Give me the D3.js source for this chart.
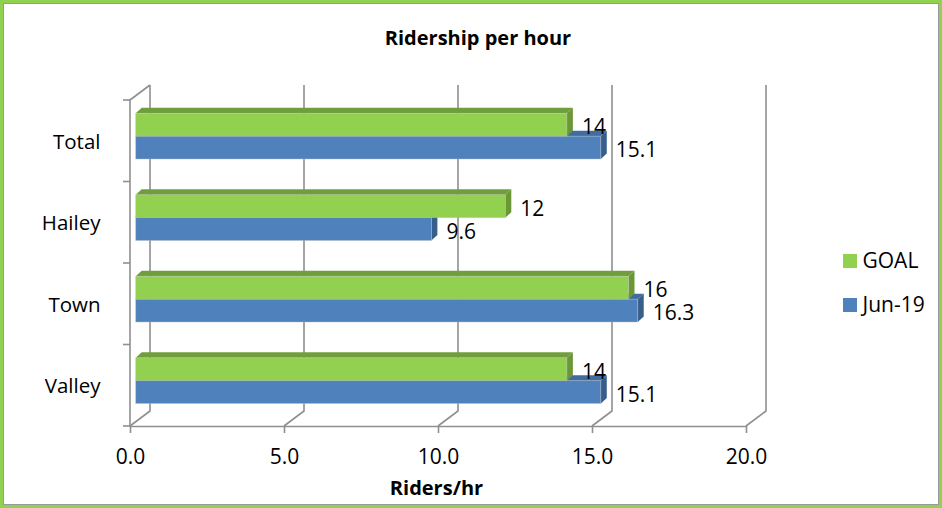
<!DOCTYPE html>
<html>
<head>
<meta charset="utf-8">
<script src="https://cdn.jsdelivr.net/npm/d3@7"></script>
<style>
  html, body { margin: 0; padding: 0; background: #fff; }
  svg { display: block; font-family: "Open Sans", Lato, "Liberation Sans", sans-serif; }
</style>
</head>
<body>
<svg id="chart" width="942" height="508"></svg>
<script>
// Ridership per hour, by route
const categories = ["Total", "Hailey", "Town", "Valley"];
const seriesNames = ["GOAL", "Jun-19"];
const goalValues = [14, 12, 16, 14];
const jun19Values = [15.1, 9.6, 16.3, 15.1];
const xTickValues = [0, 5, 10, 15, 20];

const seriesColors = {
  "GOAL":   { front: "#92d050", top: "#719e3d", side: "#6b9737" },
  "Jun-19": { front: "#4f81bd", top: "#3f6ca1", side: "#385e8c" }
};

const W = 942, H = 508;
const FONT = '"Open Sans", Lato, sans-serif';
const svg = d3.select("#chart");

// outer frame
svg.append("rect").attr("x", 1.5).attr("y", 1.5).attr("width", W - 3).attr("height", H - 3)
  .attr("fill", "#fff").attr("stroke", "#92d050").attr("stroke-width", 3);
svg.append("rect").attr("x", 3.5).attr("y", 3.5).attr("width", W - 7).attr("height", H - 7)
  .attr("fill", "none").attr("stroke", "#9a9a9a").attr("stroke-width", 1);

// scales (front plane)
const x = d3.scaleLinear().domain([0, 20]).range([130, 746]);
const y = d3.scaleBand().domain(categories).range([100, 426]);
const inner = d3.scaleBand().domain(seriesNames).range([13.3, 59]);

// 3D offsets
const wallDX = 20, wallDY = -15;    // depth of the back wall
const barPX = 5.7;                  // bars sit slightly behind the front plane
const barDX = 6, barDY = -5.5;      // depth of each bar box

const gridColor = "#8f8f8f";

// back wall gridlines + floor diagonals
const grid = svg.append("g").attr("stroke", gridColor).attr("stroke-width", 1.6).attr("fill", "none");
xTickValues.forEach(v => {
  const fx = x(v), fy = y.range()[1];
  grid.append("path").attr("d", d3.line()([
    [fx, fy], [fx + wallDX, fy + wallDY], [fx + wallDX, y.range()[0] + wallDY]
  ]));
});

// left wall: vertical axis line, top diagonal, category boundary ticks
const yTop = y.range()[0], yBot = y.range()[1];
grid.append("path").attr("d", d3.line()([
  [x(0) + wallDX, yTop + wallDY], [x(0), yTop], [x(0), yBot]
]));
const boundaries = categories.map(c => y(c)).concat([yBot]);
boundaries.forEach(b => {
  grid.append("line").attr("x1", x(0) - 7).attr("x2", x(0)).attr("y1", b).attr("y2", b);
});

// bottom axis
const xAxis = d3.axisBottom(x).tickValues(xTickValues).tickFormat(d3.format(".1f"))
  .tickSize(7).tickSizeOuter(0).tickPadding(16);
const gx = svg.append("g").attr("transform", `translate(0,${yBot})`).call(xAxis);
gx.select(".domain").attr("stroke", gridColor).attr("stroke-width", 1.6);
gx.selectAll(".tick line").attr("stroke", gridColor).attr("stroke-width", 1.6);
gx.selectAll(".tick text").attr("font-size", 21).attr("fill", "#000").attr("font-family", FONT);

// category labels
const yAxis = d3.axisLeft(y).tickSize(0).tickPadding(29.5);
const gy = svg.append("g").attr("transform", `translate(${x(0)},0)`).call(yAxis);
gy.select(".domain").remove();
gy.selectAll(".tick text").attr("font-size", 20.5).attr("fill", "#000").attr("dy", "0.38em")
  .attr("font-family", FONT);

// bars
const data = categories.map((c, i) => ({
  cat: c,
  values: [
    { s: "Jun-19", v: jun19Values[i] },
    { s: "GOAL", v: goalValues[i] }
  ]
}));

const bx = v => x(v) + barPX;
const barLayer = svg.append("g");
const labelLayer = svg.append("g").attr("font-size", 21).attr("fill", "#000").attr("font-family", FONT);

data.forEach(d => {
  d.values.forEach(b => {
    const col = seriesColors[b.s];
    const y0 = y(d.cat) + inner(b.s);
    const y1 = y0 + inner.bandwidth();
    const x0 = bx(0), x1 = bx(b.v);
    const g = barLayer.append("g");
    // top face
    g.append("path").attr("fill", col.top).attr("d", d3.line()([
      [x0, y0], [x0 + barDX, y0 + barDY], [x1 + barDX, y0 + barDY], [x1, y0]
    ]) + "Z");
    // side face
    g.append("path").attr("fill", col.side).attr("d", d3.line()([
      [x1, y0], [x1 + barDX, y0 + barDY], [x1 + barDX, y1 + barDY], [x1, y1]
    ]) + "Z");
    // front face
    g.append("rect").attr("x", x0).attr("y", y0).attr("width", x1 - x0).attr("height", y1 - y0)
      .attr("fill", col.front).attr("stroke", "rgba(190,190,190,0.55)").attr("stroke-width", 0.8);
    // value label
    labelLayer.append("text")
      .attr("x", x1 + barDX + 9)
      .attr("y", (y0 + y1) / 2 + 9.5)
      .text(String(b.v));
  });
});

// title
svg.append("text").attr("x", 478).attr("y", 45).attr("text-anchor", "middle")
  .attr("font-size", 20).attr("font-weight", "bold").attr("fill", "#000")
  .text("Ridership per hour");

// axis title
svg.append("text").attr("x", 436.5).attr("y", 495).attr("text-anchor", "middle")
  .attr("font-size", 20).attr("font-weight", "bold").attr("fill", "#000")
  .text("Riders/hr");

// legend
const legend = svg.append("g");
seriesNames.forEach((s, i) => {
  const ly = 254 + i * 44;
  legend.append("rect").attr("x", 843).attr("y", ly).attr("width", 14).attr("height", 14)
    .attr("fill", seriesColors[s].front);
  legend.append("text").attr("x", 862.5).attr("y", ly + 14).attr("font-size", 21)
    .attr("fill", "#000").text(s);
});
</script>
</body>
</html>
